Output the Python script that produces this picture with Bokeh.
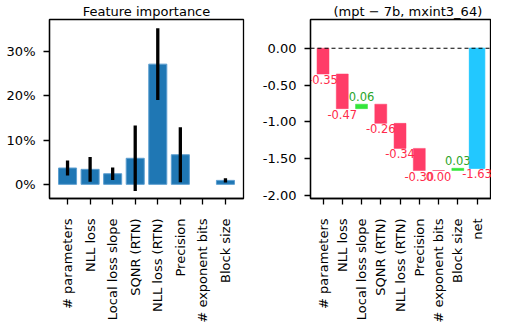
import math
from bokeh.plotting import figure
from bokeh.layouts import row
from bokeh.models import Range1d, FixedTicker, ColumnDataSource, Span
from bokeh.embed import file_html
from bokeh.resources import INLINE

# ---- data ----
features = ["# parameters", "NLL loss", "Local loss slope", "SQNR (RTN)",
            "NLL loss (RTN)", "Precision", "# exponent bits", "Block size"]
importance = [3.7, 3.4, 2.4, 5.9, 27.2, 6.7, 0.0, 0.9]        # percent
importance_err = [1.7, 2.8, 1.4, 7.4, 8.1, 6.2, 0.0, 0.5]      # percent
imp_ticks = [0, 10, 20, 30]

contrib = [-0.35, -0.47, 0.06, -0.26, -0.34, -0.30, 0.00, 0.03]
wf_categories = features + ["net"]
wf_ticks = [-2.0, -1.5, -1.0, -0.5, 0.0]

FONT = "DejaVu Sans"
FS = "13px"


def style(p):
    p.outline_line_color = "black"
    p.outline_line_width = 1.3
    p.xgrid.visible = False
    p.ygrid.visible = False
    p.title.text_font = FONT
    p.title.text_font_size = FS
    p.title.text_font_style = "normal"
    p.title.text_color = "black"
    p.title.standoff = 2
    for ax in (p.xaxis[0], p.yaxis[0]):
        ax.axis_line_color = "black"
        ax.axis_line_width = 1.3
        ax.major_tick_line_color = "black"
        ax.major_tick_line_width = 1.3
        ax.major_tick_out = 6
        ax.major_tick_in = 0
        ax.minor_tick_line_color = None
        ax.major_label_text_font = FONT
        ax.major_label_text_font_size = FS
        ax.major_label_text_color = "black"
        ax.major_label_standoff = 8
    p.xaxis[0].major_label_orientation = math.pi / 2
    p.xaxis[0].major_label_standoff = 14


# ---- left: feature importance ----
n = len(features)
xs = list(range(n))
keep = [i for i in xs if importance[i] > 0]
src1 = ColumnDataSource(dict(
    x=[xs[i] for i in keep], top=[importance[i] for i in keep]))

p1 = figure(frame_width=194, frame_height=179,
            x_range=Range1d(-0.8, n - 0.2), y_range=Range1d(-3.2, 37.3),
            output_backend="svg", toolbar_location=None,
            min_border_left=49, min_border_right=16, min_border_top=10,
            min_border_bottom=0, title="Feature importance")
p1.title.align = "center"
p1.vbar(x="x", top="top", bottom=0, width=0.8, source=src1,
        fill_color="#1f77b4", line_color="#5e9fd0", line_width=1)
src1e = ColumnDataSource(dict(
    x=[x for x, e in zip(xs, importance_err) if e > 0],
    lo=[v - e for v, e in zip(importance, importance_err) if e > 0],
    hi=[v + e for v, e in zip(importance, importance_err) if e > 0],
))
p1.segment(x0="x", x1="x", y0="lo", y1="hi", source=src1e,
           line_color="black", line_width=3.3)
style(p1)
p1.xaxis[0].ticker = FixedTicker(ticks=xs)
p1.xaxis[0].major_label_overrides = {i: f for i, f in enumerate(features)}
p1.yaxis[0].ticker = FixedTicker(ticks=imp_ticks)
p1.yaxis[0].major_label_overrides = {t: f"{t}%" for t in imp_ticks}

# ---- right: waterfall ----
cum = 0.0
bot, top, colors = [], [], []
lab = {"top": dict(x=[], y=[], text=[], color=[]),
       "bottom": dict(x=[], y=[], text=[], color=[])}
for i, c in enumerate(contrib):
    start = cum
    cum = cum + c
    lo_, hi_ = min(start, cum), max(start, cum)
    bot.append(lo_)
    top.append(hi_)
    if c > 0:
        colors.append("#33e63a")
        d = lab["bottom"]
        d["x"].append(i); d["y"].append(hi_); d["color"].append("#2aa52a")
    else:
        colors.append("#ff3d68")
        d = lab["top"]
        d["x"].append(i); d["y"].append(lo_); d["color"].append("#ff2a4a")
    d["text"].append(f"{c:.2f}")
net = cum
nx = len(contrib)
d = lab["top"]
d["x"].append(nx); d["y"].append(net); d["color"].append("#ff2a4a")
d["text"].append(f"{net:.2f}")

wx = list(range(nx))
src2 = ColumnDataSource(dict(x=wx, bottom=bot, top=top, color=colors))

p2 = figure(frame_width=181, frame_height=179,
            x_range=Range1d(-0.65, 8.75), y_range=Range1d(-2.04, 0.39),
            output_backend="svg", toolbar_location=None,
            min_border_left=50, min_border_right=0, min_border_top=10,
            min_border_bottom=0, title="(mpt \u2212 7b, mxint3_64)")
p2.title.align = "left"
p2.title.offset = 23
p2.add_layout(Span(location=0, dimension="width", line_color="black",
                   line_width=1.2, line_dash="4 3"))
p2.vbar(x="x", bottom="bottom", top="top", width=0.62, source=src2,
        fill_color="color", line_color="color", line_alpha=0.5, line_width=1)
p2.vbar(x=[nx], bottom=[net], top=[0], width=0.8,
        fill_color="#22c8ff", line_color="#22c8ff")

p2.text(x="x", y="y", text="text", source=ColumnDataSource(lab["top"]),
        text_color="color", text_align="center", text_baseline="top",
        y_offset=1, text_font_size="11.5px", text_font={"value": FONT})
p2.text(x="x", y="y", text="text", source=ColumnDataSource(lab["bottom"]),
        text_color="color", text_align="center", text_baseline="bottom",
        y_offset=-3, text_font_size="11.5px", text_font={"value": FONT})
style(p2)
p2.xaxis[0].ticker = FixedTicker(ticks=list(range(len(wf_categories))))
p2.xaxis[0].major_label_overrides = {i: f for i, f in enumerate(wf_categories)}
p2.yaxis[0].ticker = FixedTicker(ticks=wf_ticks)
p2.yaxis[0].major_label_overrides = {t: f"{t:.2f}" for t in wf_ticks}

layout = row(p1, p2)
open("out.html", "w").write(file_html(layout, INLINE))
